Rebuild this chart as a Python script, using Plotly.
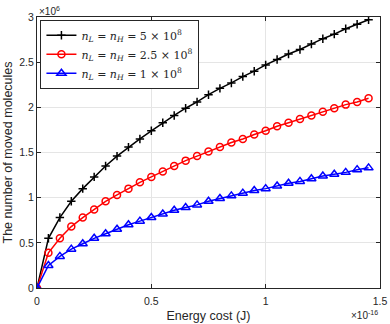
import plotly.graph_objects as go

# x in units of 1e-16 J, y in units of 1e6 molecules
energy = [round(0.05 * i, 2) for i in range(30)]
black_vals = [0, 0.55, 0.78, 0.96, 1.10, 1.23, 1.35, 1.46, 1.56, 1.65, 1.74, 1.83, 1.91, 1.99, 2.06,
              2.14, 2.21, 2.27, 2.34, 2.40, 2.47, 2.53, 2.59, 2.64, 2.70, 2.76, 2.81, 2.87, 2.92, 2.97]
red_vals = [0, 0.39, 0.55, 0.68, 0.78, 0.87, 0.96, 1.03, 1.10, 1.17, 1.23, 1.29, 1.35, 1.41, 1.46,
            1.51, 1.56, 1.61, 1.65, 1.70, 1.74, 1.79, 1.83, 1.87, 1.91, 1.95, 1.99, 2.03, 2.06, 2.10]
blue_vals = [0, 0.25, 0.35, 0.43, 0.49, 0.55, 0.60, 0.65, 0.70, 0.74, 0.78, 0.82, 0.86, 0.89, 0.92,
             0.96, 0.99, 1.02, 1.05, 1.08, 1.10, 1.13, 1.16, 1.18, 1.21, 1.24, 1.26, 1.28, 1.31, 1.33]
names = ["<i>n<sub>L</sub></i> = <i>n<sub>H</sub></i> = 5 × 10<sup>8</sup>",
         "<i>n<sub>L</sub></i> = <i>n<sub>H</sub></i> = 2.5 × 10<sup>8</sup>",
         "<i>n<sub>L</sub></i> = <i>n<sub>H</sub></i> = 1 × 10<sup>8</sup>"]
xticks = [0, 0.5, 1, 1.5]
xticklabels = ["0", "0.5", "1", "1.5"]
yticks = [0, 0.5, 1, 1.5, 2, 2.5, 3]
yticklabels = ["0", "0.5", "1", "1.5", "2", "2.5", "3"]

fig = go.Figure()
fig.add_trace(go.Scatter(x=energy, y=black_vals, name=names[0], mode="lines+markers",
                         line=dict(color="black", width=1.5),
                         marker=dict(symbol="cross-thin", size=6, color="black",
                                     line=dict(color="black", width=1.5))))
fig.add_trace(go.Scatter(x=energy, y=red_vals, name=names[1], mode="lines+markers",
                         line=dict(color="red", width=1.5),
                         marker=dict(symbol="circle-open", size=7, color="red",
                                     line=dict(color="red", width=1.5))))
fig.add_trace(go.Scatter(x=energy, y=blue_vals, name=names[2], mode="lines+markers",
                         line=dict(color="blue", width=1.5),
                         marker=dict(symbol="triangle-up-open", size=8, color="blue",
                                     line=dict(color="blue", width=1.5))))

axis_common = dict(showline=True, linecolor="#262626", linewidth=1, mirror="ticks",
                   ticks="inside", ticklen=4, tickcolor="#262626", automargin=False,
                   showgrid=True, gridcolor="#e5e5e5", gridwidth=1, zeroline=False,
                   tickfont=dict(size=10.5, color="#262626"))
fig.update_layout(
    width=390, height=324,
    margin=dict(l=37, r=10, t=17, b=36),
    paper_bgcolor="white", plot_bgcolor="white",
    font=dict(family="Liberation Sans, Arial, sans-serif", color="#262626"),
    xaxis=dict(range=[0, 1.5], tickvals=xticks, ticktext=xticklabels, ticklabelstandoff=3,
               title=dict(text="Energy cost (J)", font=dict(size=12.5), standoff=5), **axis_common),
    yaxis=dict(range=[0, 3], tickvals=yticks, ticktext=yticklabels,
               title=dict(text="The number of moved molecules", font=dict(size=12.5), standoff=3),
               **axis_common),
    legend=dict(x=0.01, y=0.99, xanchor="left", yanchor="top",
                bgcolor="white", bordercolor="#262626", borderwidth=1,
                font=dict(size=11, color="#262626", family="DejaVu Serif, Liberation Serif, serif"),
                tracegroupgap=0, itemwidth=30),
    showlegend=True,
)
fig.add_annotation(text="×10<sup>6</sup>", xref="paper", yref="paper", x=0, y=1.0,
                   xanchor="left", yanchor="bottom", showarrow=False,
                   font=dict(size=10, color="#262626"), yshift=-2)
fig.add_annotation(text="×10<sup>-16</sup>", xref="paper", yref="paper", x=1.0, y=0,
                   xanchor="right", yanchor="top", showarrow=False,
                   font=dict(size=10, color="#262626"), yshift=-19)
fig.write_html("out.html", config={"displayModeBar": False},
               post_script="document.body.style.margin='0';document.body.style.padding='0';")
